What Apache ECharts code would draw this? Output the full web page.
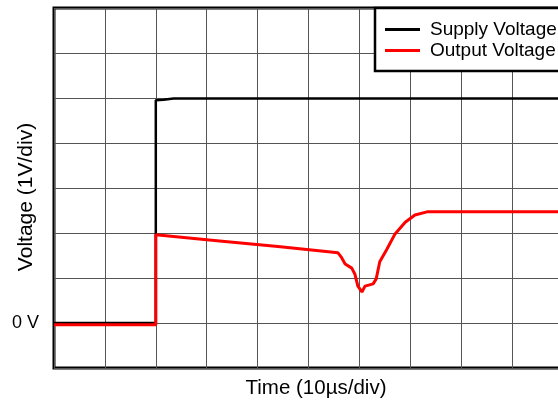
<!DOCTYPE html>
<html>
<head>
<meta charset="utf-8">
<script src="https://cdn.jsdelivr.net/npm/echarts@6/dist/echarts.min.js"></script>
<style>
  html, body { margin: 0; padding: 0; background: #fff; }
  #chart { width: 558px; height: 402px; }
</style>
</head>
<body>
<div id="chart"></div>
<script>
// time in µs, voltage in V
const supplyTime = [0, 20, 20, 21.5, 23.5, 100]
const supplyVolt = [0, 0, 4.95, 4.96, 4.99, 4.99]

const outputTime = [0, 20, 20, 32, 44, 55.8, 56.4, 57.2, 58.5, 59.1, 59.7, 60.5, 61.1, 62.7, 63.3, 64.0, 65.4, 67.0, 69.0, 70.9, 73.3, 100]
const outputVolt = [-0.04, -0.04, 1.96, 1.83, 1.7, 1.56, 1.47, 1.31, 1.22, 1.09, 0.82, 0.69, 0.82, 0.87, 0.98, 1.36, 1.64, 1.98, 2.24, 2.4, 2.47, 2.47]

const seriesNames = ['Supply Voltage', 'Output Voltage']

const toPairs = (xs, ys) => xs.map((x, i) => [x, ys[i]])

const chart = echarts.init(document.getElementById('chart'))
const FONT = 'Liberation Sans, Arial, sans-serif'
const GRID_COLOR = '#555'

const option = {
  backgroundColor: '#fff',
  animation: false,
  textStyle: { fontFamily: FONT },
  grid: {
    left: 54,
    top: 8,
    right: -5,
    bottom: 34,
    containLabel: false,
    outerBoundsMode: 'none',
    show: true,
    borderColor: '#000',
    borderWidth: 3,
    backgroundColor: '#fff'
  },
  legend: {
    orient: 'vertical',
    left: 375,
    top: 8,
    padding: [12, 40, 11, 10],
    itemGap: 2,
    itemWidth: 35,
    itemHeight: 3,
    icon: 'rect',
    backgroundColor: '#fff',
    borderColor: '#000',
    borderWidth: 2.5,
    textStyle: { fontSize: 19, lineHeight: 19, color: '#000', fontFamily: FONT, padding: [0, 0, 0, 5] },
    data: seriesNames
  },
  xAxis: {
    type: 'value',
    min: 0,
    max: 100,
    interval: 10,
    name: 'Time (10\u00b5s/div)',
    nameLocation: 'middle',
    nameGap: 10,
    nameMoveOverlap: false,
    nameTextStyle: { fontSize: 20.5, color: '#000', padding: [0, 0, 0, 15] },
    axisLine: { show: false },
    axisTick: { show: false },
    axisLabel: { show: false },
    splitLine: { show: true, lineStyle: { color: GRID_COLOR, width: 1 } }
  },
  yAxis: {
    type: 'value',
    min: -1,
    max: 7,
    interval: 1,
    name: 'Voltage (1V/div)',
    nameLocation: 'middle',
    nameGap: 17,
    nameMoveOverlap: false,
    nameTextStyle: { fontSize: 21, color: '#000', padding: [0, 18, 0, 0] },
    axisLine: { show: false },
    axisTick: { show: false },
    axisLabel: {
      margin: 15,
      fontSize: 18,
      color: '#000',
      padding: [0, 0, 12, 0],
      formatter: (v) => (v === 0 ? '0 V' : '')
    },
    splitLine: { show: true, lineStyle: { color: GRID_COLOR, width: 1 } }
  },
  series: [
    {
      name: seriesNames[0],
      type: 'line',
      showSymbol: false,
      data: toPairs(supplyTime, supplyVolt),
      itemStyle: { color: '#000' },
      lineStyle: { color: '#000', width: 2.5 }
    },
    {
      name: seriesNames[1],
      type: 'line',
      showSymbol: false,
      data: toPairs(outputTime, outputVolt),
      itemStyle: { color: '#ff0000' },
      lineStyle: { color: '#ff0000', width: 3 }
    }
  ]
}

chart.setOption(option)
</script>
</body>
</html>
